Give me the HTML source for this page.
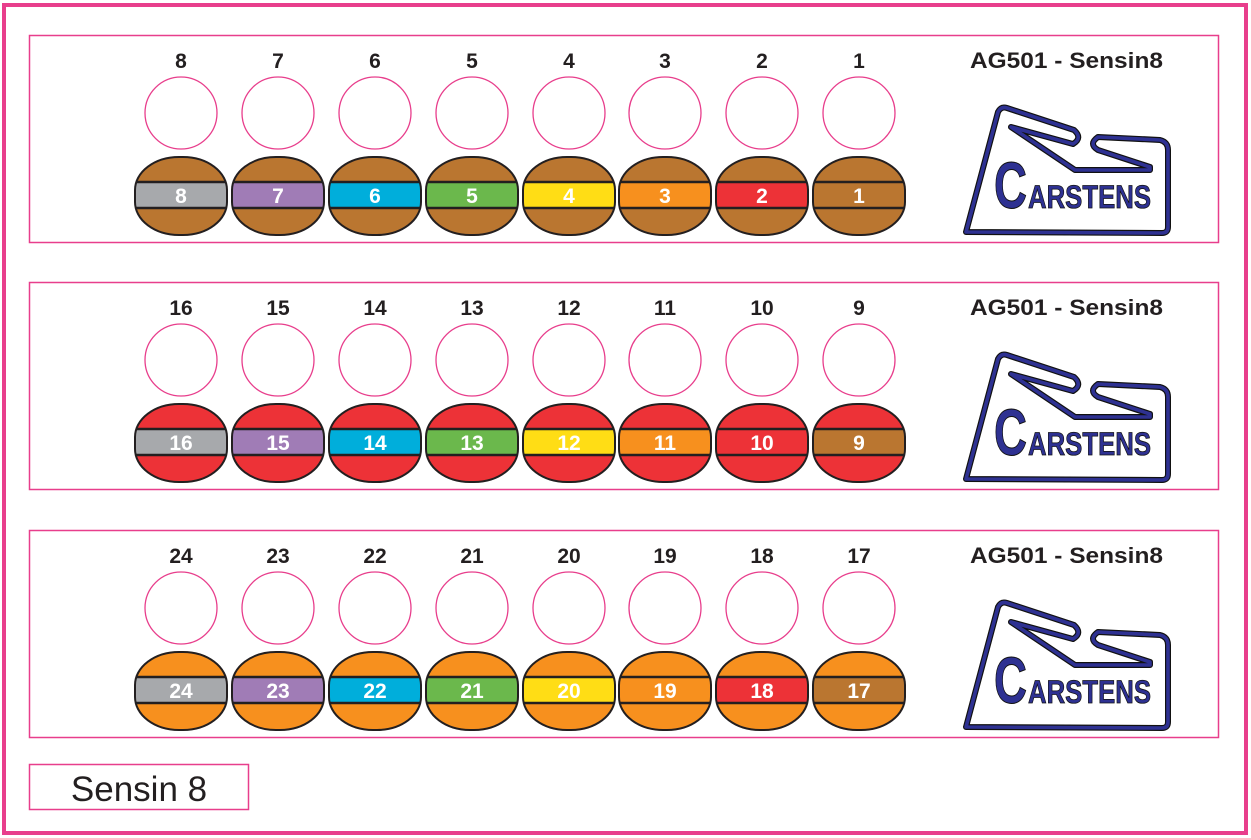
<!DOCTYPE html>
<html><head><meta charset="utf-8">
<style>
html,body{margin:0;padding:0;background:#fff;}
svg{display:block;}
</style></head>
<body>
<svg id="s" width="1251" height="838" viewBox="0 0 1251 838" xmlns="http://www.w3.org/2000/svg">
<rect x="4" y="5" width="1242" height="828" fill="none" stroke="#e83e8c" stroke-width="4"/>
<rect x="29.5" y="764.5" width="219" height="45" fill="none" stroke="#e83e8c" stroke-width="1.5"/>
<text x="139" y="801" font-family="Liberation Sans, sans-serif" font-size="35" fill="#231f20" text-anchor="middle">Sensin 8</text>
</svg>
<script>
var s=document.getElementById('s');
var band=['#a7a9ac','#a07cb6','#00aedb','#6bb84c','#ffdd15','#f7901e','#ed3237','#ba7630'];
var body=['#ba7630','#ed3237','#f7901e'];
var tops=[35,282,530];
var xs=[181,278,375,472,569,665,762,859];
var h='';
for(var r=0;r<3;r++){
 var t=tops[r];
 h+='<rect x="29.5" y="'+(t+0.5)+'" width="1189" height="207" fill="none" stroke="#e83e8c" stroke-width="1.5"/>';
 h+='<text x="970" y="'+(t+33)+'" font-family="Liberation Sans, sans-serif" font-weight="bold" font-size="22" fill="#231f20" textLength="193" lengthAdjust="spacingAndGlyphs">AG501 - Sensin8</text>';
 for(var i=0;i<8;i++){
  var n=r*8+8-i, x=xs[i];
  h+='<text x="'+x+'" y="'+(t+33)+'" font-family="Liberation Sans, sans-serif" font-weight="bold" font-size="21" fill="#231f20" text-anchor="middle">'+n+'</text>';
  h+='<circle cx="'+x+'" cy="'+(t+78)+'" r="36" fill="#fff" stroke="#e83e8c" stroke-width="1.3"/>';
  var cid='c'+r+'_'+i;
  h+='<clipPath id="'+cid+'"><rect x="'+(x-46)+'" y="'+(t+122)+'" width="92" height="78" rx="44" ry="33"/></clipPath>';
  h+='<g clip-path="url(#'+cid+')"><rect x="'+(x-46)+'" y="'+(t+122)+'" width="92" height="78" fill="'+body[r]+'"/>';
  h+='<rect x="'+(x-48)+'" y="'+(t+147)+'" width="96" height="26" fill="'+band[i]+'" stroke="#231f20" stroke-width="2.5"/></g>';
  h+='<rect x="'+(x-46)+'" y="'+(t+122)+'" width="92" height="78" rx="44" ry="33" fill="none" stroke="#231f20" stroke-width="2"/>';
  h+='<text x="'+x+'" y="'+(t+168)+'" font-family="Liberation Sans, sans-serif" font-weight="bold" font-size="21" fill="#fff" text-anchor="middle">'+n+'</text>';
 }
 var p='M966,'+(t+197)+' L998,'+(t+77)+' Q1001,'+(t+71)+' 1007,'+(t+73)+' L1074,'+(t+95)+' Q1083,'+(t+103)+' 1073,'+(t+109)+' L1011,'+(t+92)+' L1075,'+(t+135)+' L1150,'+(t+135)+' L1150,'+(t+132)+' L1098,'+(t+115)+' Q1088,'+(t+109)+' 1098,'+(t+102)+' L1160,'+(t+105)+' Q1168,'+(t+107)+' 1168,'+(t+115)+' L1168,'+(t+192)+' Q1168,'+(t+198)+' 1162,'+(t+198)+' Z';
 h+='<path d="'+p+'" fill="none" stroke="#111" stroke-width="6" stroke-linejoin="round"/>';
 h+='<path d="'+p+'" fill="none" stroke="#2e3192" stroke-width="3.6" stroke-linejoin="round"/>';
 h+='<text x="994" y="'+(t+173)+'" font-family="Liberation Sans, sans-serif" font-weight="bold" font-size="66" fill="#2e3192" stroke="#111" stroke-width="1" textLength="33" lengthAdjust="spacingAndGlyphs">C</text>';
 h+='<text x="1028" y="'+(t+173)+'" font-family="Liberation Sans, sans-serif" font-weight="bold" font-size="32" fill="#2e3192" stroke="#111" stroke-width="0.8" textLength="123" lengthAdjust="spacingAndGlyphs">ARSTENS</text>';
}
s.insertAdjacentHTML('beforeend',h);
</script>
</body></html>
